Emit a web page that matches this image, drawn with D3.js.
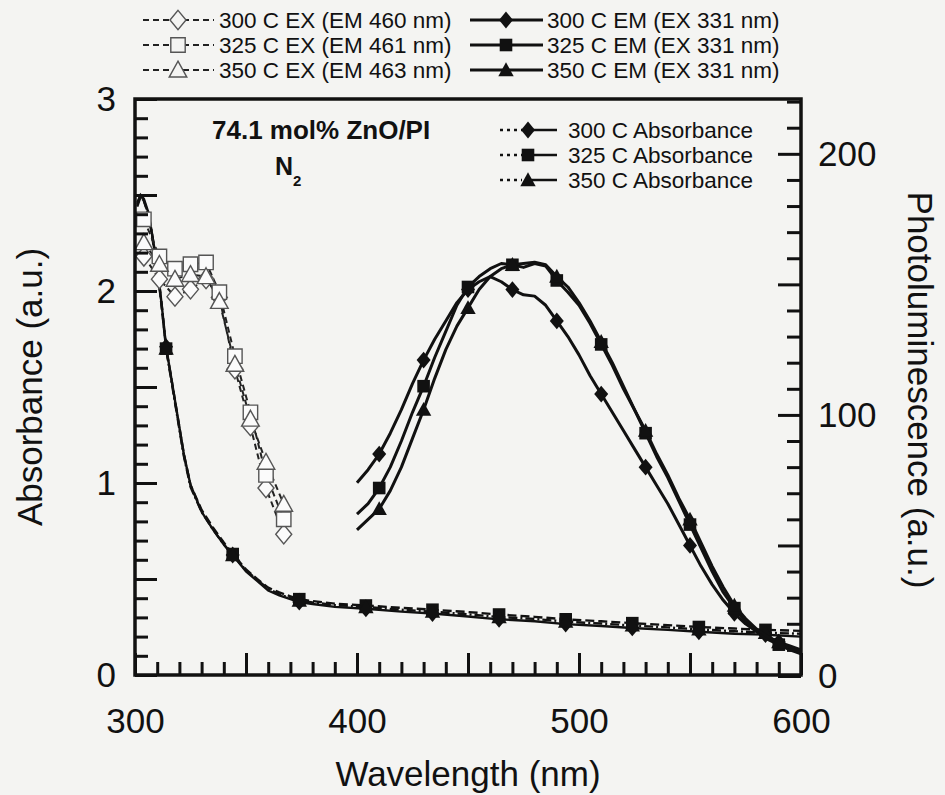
<!DOCTYPE html>
<html>
<head>
<meta charset="utf-8">
<script src="https://cdn.jsdelivr.net/npm/d3@7"></script>
<style>
  html, body { margin: 0; padding: 0; background: #f4f4f2; }
  svg { display: block; }
</style>
</head>
<body>
<svg id="chart" width="945" height="795"></svg>
<script>
// ---- Absorbance (left axis) ----
const absWl = [301, 302.5, 304, 306, 307.5, 309, 310.5, 312, 314, 316, 319, 322, 325, 330, 335, 340, 344, 350, 355, 360,
               365, 370, 374, 380, 390, 404, 420, 434, 450, 464, 480, 494, 510, 524, 540, 554, 570, 584, 600];
const abs300 = [2.46, 2.50, 2.48, 2.41, 2.31, 2.20, 2.08, 1.93, 1.71, 1.57, 1.36, 1.15, 0.99, 0.85, 0.76, 0.68, 0.625, 0.54, 0.49, 0.44,
                0.415, 0.395, 0.38, 0.37, 0.355, 0.345, 0.33, 0.32, 0.305, 0.29, 0.28, 0.265, 0.255, 0.245, 0.235, 0.225, 0.215, 0.21, 0.20];
const abs325 = [2.44, 2.49, 2.47, 2.40, 2.30, 2.19, 2.07, 1.92, 1.70, 1.57, 1.36, 1.15, 0.99, 0.86, 0.77, 0.69, 0.63, 0.55, 0.50, 0.455,
                0.43, 0.41, 0.395, 0.385, 0.372, 0.362, 0.35, 0.34, 0.328, 0.315, 0.303, 0.29, 0.28, 0.27, 0.26, 0.25, 0.242, 0.235, 0.23];
const abs350 = [2.45, 2.50, 2.47, 2.40, 2.31, 2.20, 2.08, 1.93, 1.70, 1.56, 1.35, 1.14, 0.98, 0.85, 0.76, 0.68, 0.625, 0.545, 0.495, 0.45,
                0.42, 0.40, 0.388, 0.378, 0.364, 0.354, 0.34, 0.33, 0.316, 0.302, 0.292, 0.278, 0.268, 0.258, 0.248, 0.238, 0.228, 0.22, 0.215];
const absMarkerWl = [314, 344, 374, 404, 434, 464, 494, 524, 554, 584];

// ---- PL excitation spectra (right axis) ----
const exWl  = [304, 311, 318, 325, 332, 338, 345, 352, 359, 367];
const ex300 = [160.7, 152, 145.3, 148.1, 152, 145, 117.5, 95.7, 72, 54.3];
const ex325 = [174.9, 160.7, 156, 157.7, 158.4, 147, 122.5, 101, 77, 60];
const ex350 = [166, 157.7, 152, 153.8, 153, 143.5, 119.4, 98.4, 81.9, 65.8];

// ---- PL emission spectra (right axis) ----
const emWl = [400, 405, 410, 415, 420, 425, 430, 435, 440, 445, 450, 455, 460, 465, 470, 475, 480, 485, 490, 495,
              500, 505, 510, 515, 520, 525, 530, 535, 540, 545, 550, 555, 560, 565, 570, 575, 580, 585, 590, 595, 600];
const em300 = [74, 79, 85, 93, 102, 112, 121, 129, 136, 143, 148, 151, 153, 151, 148, 146, 145.5, 142, 136, 130,
               123, 115, 108, 101, 94, 87, 80, 73, 66, 58, 50, 42, 35, 29, 24, 20, 17, 15, 13, 11.5, 10];
const em325 = [62, 66, 72, 80, 90, 101, 111, 122, 132, 142, 149, 153, 156, 158, 157.5, 156.5, 158, 157, 151.5, 147,
               142, 135, 127, 119, 110, 102, 93, 84, 76, 67, 58, 49, 40, 32, 26, 21, 17, 14, 12, 10, 8.5];
const em350 = [56, 60, 64, 71, 80, 91, 102, 114, 125, 134, 141, 148, 153, 156, 157.5, 158, 158.5, 157.5, 153, 149,
               143, 136, 128, 120, 111, 102, 94, 85, 77, 68, 60, 51, 42, 34, 27, 22, 18, 15, 13, 11, 9.5];
const emMarkerWl = [410, 430, 450, 470, 490, 510, 530, 550, 570, 590];

// ---- Axes ----
const xTicks = [300, 400, 500, 600];
const xTickLabels = ["300", "400", "500", "600"];
const yLeftTicks = [0, 1, 2, 3];
const yLeftTickLabels = ["0", "1", "2", "3"];
const yRightTicks = [0, 100, 200];
const yRightTickLabels = ["0", "100", "200"];

const exLegend = ["300 C EX (EM 460 nm)", "325 C EX (EM 461 nm)", "350 C EX (EM 463 nm)"];
const emLegend = ["300 C EM (EX 331 nm)", "325 C EM (EX 331 nm)", "350 C EM (EX 331 nm)"];
const absLegend = ["300 C Absorbance", "325 C Absorbance", "350 C Absorbance"];
const shapes = ["diamond", "square", "triangle"];

const FONT = "'Liberation Sans', Arial, Helvetica, sans-serif";
const INK = "#111";
const BG = "#f4f4f2";

const svg = d3.select("#chart");
svg.append("rect").attr("width", 945).attr("height", 795).attr("fill", BG);

const L = 135, R = 801, T = 99, B = 675;
const x = d3.scaleLinear().domain([300, 600]).range([L, R]);
const yL = d3.scaleLinear().domain([0, 3]).range([B, T]);
const yR = d3.scaleLinear().domain([0, 221]).range([B + 1, T]);

// marker path centred on 0,0
function markerPath(shape, s) {
  if (shape === "diamond") {
    const w = s * 0.5, h = s * 0.6;
    return `M0,${-h}L${w},0L0,${h}L${-w},0Z`;
  }
  if (shape === "square") {
    const h = s * 0.45;
    return `M${-h},${-h}H${h}V${h}H${-h}Z`;
  }
  const h = s * 0.55;
  return `M0,${-h}L${h},${h * 0.8}L${-h},${h * 0.8}Z`;
}

const plot = svg.append("g");

// ---- Absorbance curves ----
const absSeries = [abs300, abs325, abs350];
const absDash = [null, "9,4", "9,3,2,3"];
const absLine = d3.line().x(d => x(d[0])).y(d => yL(d[1]));
absSeries.forEach((vals, i) => {
  const pts = absWl.map((w, j) => [w, vals[j]]);
  plot.append("path")
    .attr("d", absLine(pts))
    .attr("fill", "none").attr("stroke", INK)
    .attr("stroke-width", 2.4)
    .attr("stroke-dasharray", absDash[i]);
  plot.selectAll(null)
    .data(pts.filter(p => absMarkerWl.includes(p[0])))
    .enter().append("path")
    .attr("transform", d => `translate(${x(d[0])},${yL(d[1])})`)
    .attr("d", markerPath(shapes[i], 14))
    .attr("fill", INK);
});

// ---- Excitation curves (open markers, dashed) ----
const exSeries = [ex300, ex325, ex350];
const rLine = d3.line().x(d => x(d[0])).y(d => yR(d[1]));
exSeries.forEach((vals) => {
  const pts = exWl.map((w, j) => [w, vals[j]]);
  plot.append("path")
    .attr("d", rLine(pts))
    .attr("fill", "none").attr("stroke", "#222")
    .attr("stroke-width", 2).attr("stroke-dasharray", "6,4");
});
exSeries.forEach((vals, i) => {
  const pts = exWl.map((w, j) => [w, vals[j]]);
  plot.selectAll(null).data(pts).enter().append("path")
    .attr("transform", d => `translate(${x(d[0])},${yR(d[1])})`)
    .attr("d", markerPath(shapes[i], 16))
    .attr("fill", "#fbfbfb").attr("stroke", "#555").attr("stroke-width", 1.4);
});

// ---- Emission curves (filled markers, solid) ----
const emSeries = [em300, em325, em350];
emSeries.forEach((vals, i) => {
  const pts = emWl.map((w, j) => [w, vals[j]]);
  plot.append("path")
    .attr("d", rLine(pts))
    .attr("fill", "none").attr("stroke", INK)
    .attr("stroke-width", 3).attr("stroke-linejoin", "round");
  plot.selectAll(null)
    .data(pts.filter(p => emMarkerWl.includes(p[0])))
    .enter().append("path")
    .attr("transform", d => `translate(${x(d[0])},${yR(d[1])})`)
    .attr("d", markerPath(shapes[i], 14))
    .attr("fill", INK);
});

// ---- Axes (ticks point inward) ----
function range(a, b, s) { const r = []; for (let v = a; v <= b + 1e-9; v += s) r.push(+v.toFixed(4)); return r; }
function styleAxis(g) {
  g.select(".domain").remove();
  g.selectAll(".tick line").attr("stroke", INK).attr("stroke-width", 3);
  g.selectAll(".tick text").attr("fill", INK).style("font-family", FONT).style("font-size", "35px");
}
const fmt = (ticks, labels) => d => { const k = ticks.indexOf(d); return k >= 0 ? labels[k] : ""; };

// bottom
svg.append("g").attr("transform", `translate(0,${B})`)
  .call(d3.axisBottom(x).tickValues(range(300, 600, 10).filter(v => v % 50 !== 0)).tickSize(-13).tickFormat(""))
  .call(styleAxis);
svg.append("g").attr("transform", `translate(0,${B})`)
  .call(d3.axisBottom(x).tickValues(range(300, 600, 50)).tickSize(-22).tickPadding(33).tickFormat(fmt(xTicks, xTickLabels)))
  .call(styleAxis);
// left
svg.append("g").attr("transform", `translate(${L},0)`)
  .call(d3.axisLeft(yL).tickValues(range(0, 3, 0.1).filter(v => Math.abs(v * 2 - Math.round(v * 2)) > 1e-6)).tickSize(-13).tickFormat(""))
  .call(styleAxis);
svg.append("g").attr("transform", `translate(${L},0)`)
  .call(d3.axisLeft(yL).tickValues(range(0, 3, 0.5)).tickSize(-22).tickPadding(19).tickFormat(fmt(yLeftTicks, yLeftTickLabels)))
  .call(styleAxis);
// right
svg.append("g").attr("transform", `translate(${R},0)`)
  .call(d3.axisRight(yR).tickValues(range(0, 220, 10).filter(v => v % 50 !== 0)).tickSize(-14).tickFormat(""))
  .call(styleAxis);
svg.append("g").attr("transform", `translate(${R},0)`)
  .call(d3.axisRight(yR).tickValues(range(0, 200, 50)).tickSize(-23).tickPadding(17).tickFormat(fmt(yRightTicks, yRightTickLabels)))
  .call(styleAxis);

// frame
svg.append("rect").attr("x", L).attr("y", T).attr("width", R - L).attr("height", B - T)
  .attr("fill", "none").attr("stroke", INK).attr("stroke-width", 3.5);

// axis titles
svg.append("text").attr("x", x(450)).attr("y", 786).attr("text-anchor", "middle")
  .style("font-family", FONT).style("font-size", "35px").attr("fill", INK).text("Wavelength (nm)");
svg.append("text").attr("transform", "translate(42,387) rotate(-90)").attr("text-anchor", "middle")
  .style("font-family", FONT).style("font-size", "35px").attr("fill", INK).text("Absorbance (a.u.)");
svg.append("text").attr("transform", "translate(908,390) rotate(90)").attr("text-anchor", "middle")
  .style("font-family", FONT).style("font-size", "35px").attr("fill", INK).text("Photoluminescence (a.u.)");

// sample annotation
svg.append("text").attr("x", 212).attr("y", 139)
  .style("font-family", FONT).style("font-size", "26px").style("font-weight", "bold").attr("fill", INK)
  .text("74.1 mol% ZnO/PI");
const n2 = svg.append("text").attr("x", 275).attr("y", 175)
  .style("font-family", FONT).style("font-weight", "bold").attr("fill", INK);
n2.append("tspan").style("font-size", "25px").text("N");
n2.append("tspan").style("font-size", "15px").attr("dy", 11).text("2");

// ---- top legend ----
const legRows = [20, 45, 70];
const legText = (xx, yy, t) => svg.append("text").attr("x", xx).attr("y", yy + 8)
  .style("font-family", FONT).style("font-size", "22.5px").attr("fill", INK).text(t);
exLegend.forEach((t, i) => {
  const yy = legRows[i];
  svg.append("line").attr("x1", 143).attr("x2", 214).attr("y1", yy).attr("y2", yy)
    .attr("stroke", "#222").attr("stroke-width", 2).attr("stroke-dasharray", "6,4");
  svg.append("path").attr("transform", `translate(178,${yy})`).attr("d", markerPath(shapes[i], 16))
    .attr("fill", BG).attr("stroke", "#555").attr("stroke-width", 1.4);
  legText(219, yy, t);
});
emLegend.forEach((t, i) => {
  const yy = legRows[i];
  svg.append("line").attr("x1", 470).attr("x2", 543).attr("y1", yy).attr("y2", yy)
    .attr("stroke", INK).attr("stroke-width", 3);
  svg.append("path").attr("transform", `translate(506,${yy})`).attr("d", markerPath(shapes[i], 14))
    .attr("fill", INK);
  legText(547, yy, t);
});

// ---- inner absorbance legend ----
const absRows = [130, 155, 180];
absLegend.forEach((t, i) => {
  const yy = absRows[i];
  svg.append("line").attr("x1", 500).attr("x2", 522).attr("y1", yy).attr("y2", yy)
    .attr("stroke", INK).attr("stroke-width", 2.5).attr("stroke-dasharray", "3,4");
  svg.append("line").attr("x1", 528).attr("x2", 557).attr("y1", yy).attr("y2", yy)
    .attr("stroke", INK).attr("stroke-width", 2.5);
  svg.append("path").attr("transform", `translate(528,${yy})`).attr("d", markerPath(shapes[i], 14))
    .attr("fill", INK);
  legText(568, yy, t);
});
</script>
</body>
</html>
